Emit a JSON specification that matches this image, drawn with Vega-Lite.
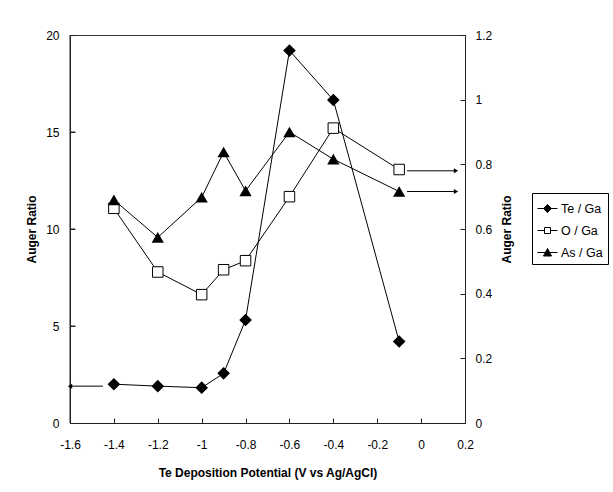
{
  "$schema": "https://vega.github.io/schema/vega-lite/v6.json",
  "width": 395,
  "height": 388,
  "autosize": {"type": "none"},
  "padding": {"left": 70, "top": 35, "right": 148, "bottom": 69},
  "background": "white",
  "config": {
    "view": {"stroke": "#333", "strokeWidth": 1},
    "font": "Liberation Sans",
    "axis": {
      "domainColor": "#222",
      "tickColor": "#222",
      "labelFont": "Liberation Sans",
      "labelFontSize": 12,
      "labelColor": "black",
      "labelFlush": false,
      "titleFont": "Liberation Sans",
      "titleFontSize": 12,
      "titleFontWeight": "bold",
      "titleColor": "black",
      "grid": false,
      "tickSize": -5,
      "zindex": 1
    }
  },
  "datasets": {
    "pts": [
      {"x": -1.4, "series": "Te / Ga", "v": 2.0},
      {"x": -1.2, "series": "Te / Ga", "v": 1.9},
      {"x": -1.0, "series": "Te / Ga", "v": 1.82},
      {"x": -0.9, "series": "Te / Ga", "v": 2.56},
      {"x": -0.8, "series": "Te / Ga", "v": 5.31},
      {"x": -0.6, "series": "Te / Ga", "v": 19.2},
      {"x": -0.4, "series": "Te / Ga", "v": 16.65},
      {"x": -0.1, "series": "Te / Ga", "v": 4.2},
      {"x": -1.4, "series": "O / Ga", "v": 0.664},
      {"x": -1.2, "series": "O / Ga", "v": 0.467},
      {"x": -1.0, "series": "O / Ga", "v": 0.397},
      {"x": -0.9, "series": "O / Ga", "v": 0.474},
      {"x": -0.8, "series": "O / Ga", "v": 0.502},
      {"x": -0.6, "series": "O / Ga", "v": 0.70},
      {"x": -0.4, "series": "O / Ga", "v": 0.912},
      {"x": -0.1, "series": "O / Ga", "v": 0.784},
      {"x": -1.4, "series": "As / Ga", "v": 0.69},
      {"x": -1.2, "series": "As / Ga", "v": 0.574},
      {"x": -1.0, "series": "As / Ga", "v": 0.698},
      {"x": -0.9, "series": "As / Ga", "v": 0.838},
      {"x": -0.8, "series": "As / Ga", "v": 0.718},
      {"x": -0.6, "series": "As / Ga", "v": 0.90},
      {"x": -0.4, "series": "As / Ga", "v": 0.816},
      {"x": -0.1, "series": "As / Ga", "v": 0.716}
    ],
    "arrows": [
      {"side": "L", "x": -1.45, "xe": -1.6, "v": 1.9},
      {"side": "R", "x": -0.064, "xe": 0.159, "v": 0.78},
      {"side": "R", "x": -0.064, "xe": 0.159, "v": 0.716}
    ],
    "leftaxis": [
      {"x": -1.6, "xe": -1.6, "v": 0, "ve": 20},
      {"x": -1.6, "xe": -1.577, "v": 5, "ve": 5},
      {"x": -1.6, "xe": -1.577, "v": 10, "ve": 10},
      {"x": -1.6, "xe": -1.577, "v": 15, "ve": 15}
    ]
  },
  "layer": [
    {
      "encoding": {
        "x": {
          "field": "x", "type": "quantitative",
          "scale": {"domain": [-1.6, 0.2], "nice": false, "zero": false},
          "axis": {"values": [-1.6, -1.4, -1.2, -1.0, -0.8, -0.6, -0.4, -0.2, 0, 0.2], "labelExpr": "replace(format(datum.value, '~g'), '\u2212', '-')", "title": "Te Deposition Potential (V vs Ag/AgCl)", "labelPadding": 21, "titlePadding": 17}
        },
        "y": {
          "field": "v", "type": "quantitative",
          "scale": {"domain": [0, 20], "nice": false},
          "axis": {"orient": "left", "values": [0, 5, 10, 15, 20], "title": "Auger Ratio", "labelPadding": 16, "titlePadding": 7}
        }
      },
      "layer": [
        {
          "data": {"name": "leftaxis"},
          "mark": {"type": "rule", "color": "#222", "strokeWidth": 1},
          "encoding": {"x2": {"field": "xe"}, "y2": {"field": "ve"}}
        },
        {
          "data": {"name": "pts"},
          "transform": [{"filter": "datum.series === 'Te / Ga'"}],
          "mark": {"type": "line", "color": "black", "strokeWidth": 1},
          "encoding": {"detail": {"field": "series"}}
        },
        {
          "data": {"name": "arrows"},
          "transform": [{"filter": "datum.side === 'L'"}],
          "mark": {"type": "rule", "color": "black", "strokeWidth": 1},
          "encoding": {"x2": {"field": "xe"}}
        },
        {
          "data": {"name": "arrows"},
          "transform": [{"filter": "datum.side === 'L'"}],
          "mark": {"type": "point", "shape": "triangle-left", "filled": true, "color": "black", "size": 25, "opacity": 1},
          "encoding": {"x": {"field": "xe", "type": "quantitative"}}
        },
        {
          "data": {"name": "pts"},
          "transform": [{"filter": "datum.series === 'Te / Ga'"}],
          "mark": {"type": "point", "shape": "diamond", "filled": true, "color": "black", "size": 160, "opacity": 1}
        }
      ]
    },
    {
      "encoding": {
        "x": {
          "field": "x", "type": "quantitative",
          "scale": {"domain": [-1.6, 0.2], "nice": false, "zero": false},
          "axis": {"values": [-1.6, -1.4, -1.2, -1.0, -0.8, -0.6, -0.4, -0.2, 0, 0.2], "labelExpr": "replace(format(datum.value, '~g'), '\u2212', '-')", "title": "Te Deposition Potential (V vs Ag/AgCl)", "labelPadding": 21, "titlePadding": 17}
        },
        "y": {
          "field": "v", "type": "quantitative",
          "scale": {"domain": [0, 1.2], "nice": false},
          "axis": {"orient": "right", "values": [0, 0.2, 0.4, 0.6, 0.8, 1, 1.2], "format": "~g", "title": "Auger Ratio", "titleAngle": 270, "titleBaseline": "top", "labelPadding": 15, "titlePadding": 10}
        }
      },
      "layer": [
        {
          "data": {"name": "pts"},
          "transform": [{"filter": "datum.series !== 'Te / Ga'"}],
          "mark": {"type": "line", "color": "black", "strokeWidth": 1},
          "encoding": {"detail": {"field": "series"}}
        },
        {
          "data": {"name": "arrows"},
          "transform": [{"filter": "datum.side === 'R'"}],
          "mark": {"type": "rule", "color": "black", "strokeWidth": 1},
          "encoding": {"x2": {"field": "xe"}}
        },
        {
          "data": {"name": "arrows"},
          "transform": [{"filter": "datum.side === 'R'"}],
          "mark": {"type": "point", "shape": "triangle-right", "filled": true, "color": "black", "size": 25, "opacity": 1},
          "encoding": {"x": {"field": "xe", "type": "quantitative"}}
        },
        {
          "data": {"name": "pts"},
          "transform": [{"filter": "datum.series === 'O / Ga'"}],
          "mark": {"type": "point", "shape": "square", "filled": true, "fill": "white", "stroke": "black", "strokeWidth": 1, "size": 110, "opacity": 1}
        },
        {
          "data": {"name": "pts"},
          "transform": [{"filter": "datum.series === 'As / Ga'"}],
          "mark": {"type": "point", "shape": "triangle-up", "filled": true, "color": "black", "size": 150, "opacity": 1}
        }
      ]
    },
    {
      "data": {"values": [{"s": "Te / Ga"}, {"s": "O / Ga"}, {"s": "As / Ga"}]},
      "transform": [{"filter": "false"}],
      "mark": {"type": "point", "filled": true, "strokeWidth": 1, "opacity": 1},
      "encoding": {
        "shape": {
          "field": "s", "type": "nominal",
          "scale": {"domain": ["Te / Ga", "O / Ga", "As / Ga"], "range": ["M-1,0H1M-0.4,0L0,-0.4L0.4,0L0,0.4Z", "M-1,0H-0.3M0.3,0H1M-0.3,-0.3H0.3V0.3H-0.3Z", "M-1,0H1M-0.4,0.35L0,-0.4L0.4,0.35Z"]},
          "legend": {"title": null, "orient": "none", "legendX": 462, "legendY": 158, "strokeColor": "black", "fillColor": "white", "padding": 5, "symbolSize": 400, "symbolStrokeWidth": 1, "labelFontSize": 12.5, "labelFont": "Liberation Sans", "labelColor": "black", "labelOffset": 3, "rowPadding": 5}
        },
        "fill": {
          "field": "s", "type": "nominal",
          "scale": {"domain": ["Te / Ga", "O / Ga", "As / Ga"], "range": ["black", "white", "black"]},
          "legend": {"title": null, "orient": "none", "legendX": 462, "legendY": 158, "strokeColor": "black", "fillColor": "white", "padding": 5, "symbolSize": 400, "symbolStrokeWidth": 1, "labelFontSize": 12.5, "labelFont": "Liberation Sans", "labelColor": "black", "labelOffset": 3, "rowPadding": 5}
        },
        "stroke": {
          "field": "s", "type": "nominal",
          "scale": {"domain": ["Te / Ga", "O / Ga", "As / Ga"], "range": ["black", "black", "black"]},
          "legend": {"title": null, "orient": "none", "legendX": 462, "legendY": 158, "strokeColor": "black", "fillColor": "white", "padding": 5, "symbolSize": 400, "symbolStrokeWidth": 1, "labelFontSize": 12.5, "labelFont": "Liberation Sans", "labelColor": "black", "labelOffset": 3, "rowPadding": 5}
        }
      }
    }
  ],
  "resolve": {"scale": {"y": "independent"}}
}
